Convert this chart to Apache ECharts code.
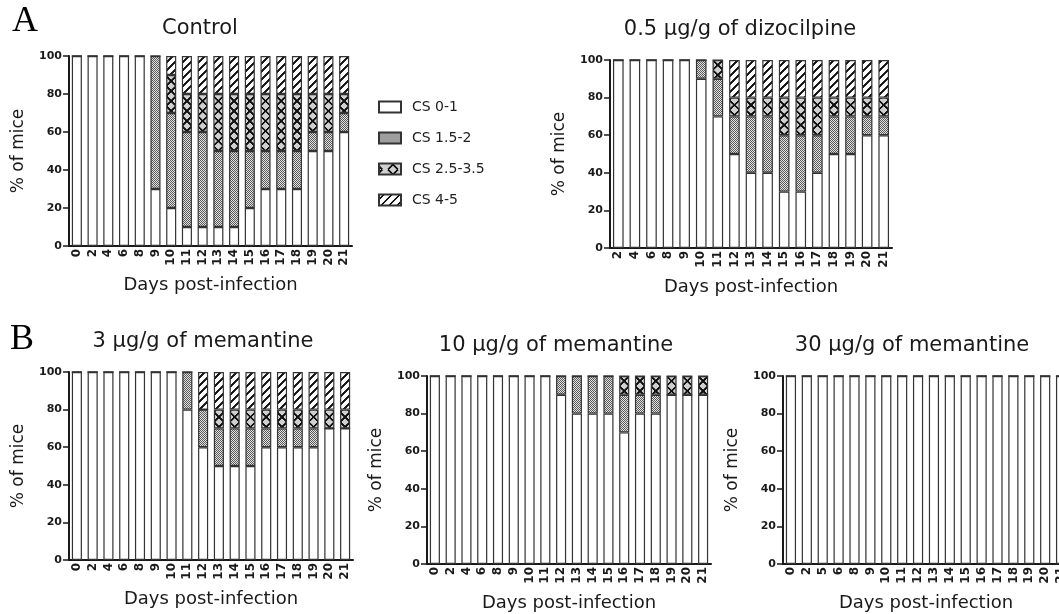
<!DOCTYPE html>
<html>
<head>
<meta charset="utf-8">
<script src="https://cdn.jsdelivr.net/npm/echarts@6/dist/echarts.min.js"></script>
<style>
  html, body { margin: 0; padding: 0; background: #fff; }
  #main { width: 1059px; height: 614px; }
</style>
</head>
<body>
<div id="main"></div>
<script>
// ---- data (% of mice per clinical score) ----
const ctrlDays = ['0', '2', '4', '6', '8', '9', '10', '11', '12', '13', '14', '15', '16', '17', '18', '19', '20', '21']
const ctrlCS01 = [100, 100, 100, 100, 100, 30, 20, 10, 10, 10, 10, 20, 30, 30, 30, 50, 50, 60]
const ctrlCS15 = [0, 0, 0, 0, 0, 70, 50, 50, 50, 40, 40, 30, 20, 20, 20, 10, 10, 10]
const ctrlCS25 = [0, 0, 0, 0, 0, 0, 20, 20, 20, 30, 30, 30, 30, 30, 30, 20, 20, 10]
const ctrlCS45 = [0, 0, 0, 0, 0, 0, 10, 20, 20, 20, 20, 20, 20, 20, 20, 20, 20, 20]

const dizoDays = ['2', '4', '6', '8', '9', '10', '11', '12', '13', '14', '15', '16', '17', '18', '19', '20', '21']
const dizoCS01 = [100, 100, 100, 100, 100, 90, 70, 50, 40, 40, 30, 30, 40, 50, 50, 60, 60]
const dizoCS15 = [0, 0, 0, 0, 0, 10, 20, 20, 30, 30, 30, 30, 20, 20, 20, 10, 10]
const dizoCS25 = [0, 0, 0, 0, 0, 0, 10, 10, 10, 10, 20, 20, 20, 10, 10, 10, 10]
const dizoCS45 = [0, 0, 0, 0, 0, 0, 0, 20, 20, 20, 20, 20, 20, 20, 20, 20, 20]

const mem3Days = ['0', '2', '4', '6', '8', '9', '10', '11', '12', '13', '14', '15', '16', '17', '18', '19', '20', '21']
const mem3CS01 = [100, 100, 100, 100, 100, 100, 100, 80, 60, 50, 50, 50, 60, 60, 60, 60, 70, 70]
const mem3CS15 = [0, 0, 0, 0, 0, 0, 0, 20, 20, 20, 20, 20, 10, 10, 10, 10, 0, 0]
const mem3CS25 = [0, 0, 0, 0, 0, 0, 0, 0, 0, 10, 10, 10, 10, 10, 10, 10, 10, 10]
const mem3CS45 = [0, 0, 0, 0, 0, 0, 0, 0, 20, 20, 20, 20, 20, 20, 20, 20, 20, 20]

const mem10Days = ['0', '2', '4', '6', '8', '9', '10', '11', '12', '13', '14', '15', '16', '17', '18', '19', '20', '21']
const mem10CS01 = [100, 100, 100, 100, 100, 100, 100, 100, 90, 80, 80, 80, 70, 80, 80, 90, 90, 90]
const mem10CS15 = [0, 0, 0, 0, 0, 0, 0, 0, 10, 20, 20, 20, 20, 10, 10, 0, 0, 0]
const mem10CS25 = [0, 0, 0, 0, 0, 0, 0, 0, 0, 0, 0, 0, 10, 10, 10, 10, 10, 10]
const mem10CS45 = [0, 0, 0, 0, 0, 0, 0, 0, 0, 0, 0, 0, 0, 0, 0, 0, 0, 0]

const mem30Days = ['0', '2', '5', '6', '8', '9', '10', '11', '12', '13', '14', '15', '16', '17', '18', '19', '20', '21']
const mem30CS01 = [100, 100, 100, 100, 100, 100, 100, 100, 100, 100, 100, 100, 100, 100, 100, 100, 100, 100]
const mem30CS15 = [0, 0, 0, 0, 0, 0, 0, 0, 0, 0, 0, 0, 0, 0, 0, 0, 0, 0]
const mem30CS25 = [0, 0, 0, 0, 0, 0, 0, 0, 0, 0, 0, 0, 0, 0, 0, 0, 0, 0]
const mem30CS45 = [0, 0, 0, 0, 0, 0, 0, 0, 0, 0, 0, 0, 0, 0, 0, 0, 0, 0]

const scoreNames = ['CS 0-1', 'CS 1.5-2', 'CS 2.5-3.5', 'CS 4-5']

// panels: grid box + title
const panels = [
  { title: 'Control', days: ctrlDays, values: [ctrlCS01, ctrlCS15, ctrlCS25, ctrlCS45],
    left: 69, top: 56, width: 283, height: 190, tx: 200, ty: 29 },
  { title: '0.5 μg/g of dizocilpine', days: dizoDays, values: [dizoCS01, dizoCS15, dizoCS25, dizoCS45],
    left: 610, top: 60, width: 282, height: 188, tx: 740, ty: 30 },
  { title: '3 μg/g of memantine', days: mem3Days, values: [mem3CS01, mem3CS15, mem3CS25, mem3CS45],
    left: 69, top: 372, width: 284, height: 188, tx: 203, ty: 342 },
  { title: '10 μg/g of memantine', days: mem10Days, values: [mem10CS01, mem10CS15, mem10CS25, mem10CS45],
    left: 427, top: 376, width: 284, height: 188, tx: 556, ty: 346 },
  { title: '30 μg/g of memantine', days: mem30Days, values: [mem30CS01, mem30CS15, mem30CS25, mem30CS45],
    left: 783, top: 376, width: 286, height: 188, tx: 912, ty: 346 }
]

const FONT = 'DejaVu Sans'
const GAP = 0.36
const INK = '#1a1a1a'

// fill patterns, drawn at 3x and scaled down so one tile spans one category band
const F = 3
function tile(w, h, draw) {
  const c = document.createElement('canvas')
  c.width = w
  c.height = h
  draw(c.getContext('2d'))
  return c
}

function dotsFill() {
  const c = tile(2, 2, ctx => {
    ctx.fillStyle = '#e2e2e2'
    ctx.fillRect(0, 0, 2, 2)
    ctx.fillStyle = '#5a5a5a'
    ctx.fillRect(0, 0, 1, 1)
    ctx.fillRect(1, 1, 1, 1)
  })
  return { image: c, repeat: 'repeat' }
}

function crossFill(p) {
  const band = p.width / p.days.length
  const w = Math.round(band * F), h = 10 * F
  const sx = w / band
  const bl = band * GAP / 2 * sx, br = band * (1 - GAP / 2) * sx
  const c = tile(w, h, ctx => {
    ctx.fillStyle = '#d0d0d0'
    ctx.fillRect(0, 0, w, h)
    ctx.strokeStyle = '#111'
    ctx.lineWidth = 1.8 * F
    ctx.beginPath()
    ctx.moveTo(bl, 0); ctx.lineTo(br, h)
    ctx.moveTo(br, 0); ctx.lineTo(bl, h)
    ctx.stroke()
  })
  return { image: c, repeat: 'repeat', x: p.left, y: p.top, scaleX: band / w, scaleY: 1 / F }
}

function hatchFill(p) {
  const s = 8 * F
  const c = tile(s, s, ctx => {
    ctx.fillStyle = '#fff'
    ctx.fillRect(0, 0, s, s)
    ctx.strokeStyle = '#111'
    ctx.lineWidth = 1.7 * F
    ctx.beginPath()
    ctx.moveTo(-s, s); ctx.lineTo(s, -s)
    ctx.moveTo(0, s); ctx.lineTo(s, 0)
    ctx.moveTo(0, 2 * s); ctx.lineTo(2 * s, 0)
    ctx.stroke()
  })
  return { image: c, repeat: 'repeat', x: p.left, y: p.top, scaleX: 1 / F, scaleY: 1 / F }
}

const grids = [], xAxes = [], yAxes = [], series = [], graphics = []

panels.forEach((p, i) => {
  grids.push({ left: p.left, top: p.top, width: p.width, height: p.height, outerBoundsMode: 'none', containLabel: false })
  xAxes.push({
    type: 'category', gridIndex: i, data: p.days,
    name: 'Days post-infection', nameLocation: 'middle', nameGap: 30,
    nameTextStyle: { fontFamily: FONT, fontSize: 18, color: INK },
    axisLine: { lineStyle: { color: INK, width: 2 } },
    axisTick: { alignWithLabel: true, length: 5, lineStyle: { color: INK, width: 1.5 } },
    axisLabel: { interval: 0, rotate: 90, margin: 3, fontFamily: FONT, fontSize: 12, fontWeight: 'bold', color: INK }
  })
  yAxes.push({
    type: 'value', gridIndex: i, min: 0, max: 100, interval: 20,
    name: '% of mice', nameLocation: 'middle', nameGap: 42,
    nameTextStyle: { fontFamily: FONT, fontSize: 17, color: INK },
    axisLine: { show: true, lineStyle: { color: INK, width: 2 } },
    axisTick: { show: true, length: 6, lineStyle: { color: INK, width: 1.5 } },
    axisLabel: { margin: 7, fontFamily: FONT, fontSize: 11, fontWeight: 'bold', color: INK },
    splitLine: { show: false }
  })
  const fills = ['#ffffff', dotsFill(), crossFill(p), hatchFill(p)]
  p.values.forEach((vals, k) => {
    series.push({
      type: 'bar', name: scoreNames[k], xAxisIndex: i, yAxisIndex: i, stack: 'panel' + i,
      barCategoryGap: GAP * 100 + '%',
      data: vals,
      itemStyle: { color: fills[k], borderColor: '#333', borderWidth: 1.2 },
      emphasis: { disabled: true }
    })
  })
  graphics.push({
    type: 'text', x: p.tx, y: p.ty,
    style: { text: p.title, font: '21px "DejaVu Sans"', fill: INK, textAlign: 'center', textVerticalAlign: 'middle' }
  })
})

graphics.push({ type: 'text', x: 12, y: 22, style: { text: 'A', font: '36px "Liberation Serif"', fill: '#000', textVerticalAlign: 'middle' } })
graphics.push({ type: 'text', x: 10, y: 340, style: { text: 'B', font: '36px "Liberation Serif"', fill: '#000', textVerticalAlign: 'middle' } })

const chart = echarts.init(document.getElementById('main'))
chart.setOption({
  animation: false,
  backgroundColor: '#fff',
  grid: grids,
  xAxis: xAxes,
  yAxis: yAxes,
  legend: {
    data: scoreNames, orient: 'vertical', left: 373, top: 95,
    icon: 'rect', itemWidth: 22, itemHeight: 11, itemGap: 17,
    selectedMode: false,
    textStyle: { fontFamily: FONT, fontSize: 14, color: '#222', padding: [0, 0, 0, 6] }
  },
  series: series,
  graphic: graphics
})
</script>
</body>
</html>
